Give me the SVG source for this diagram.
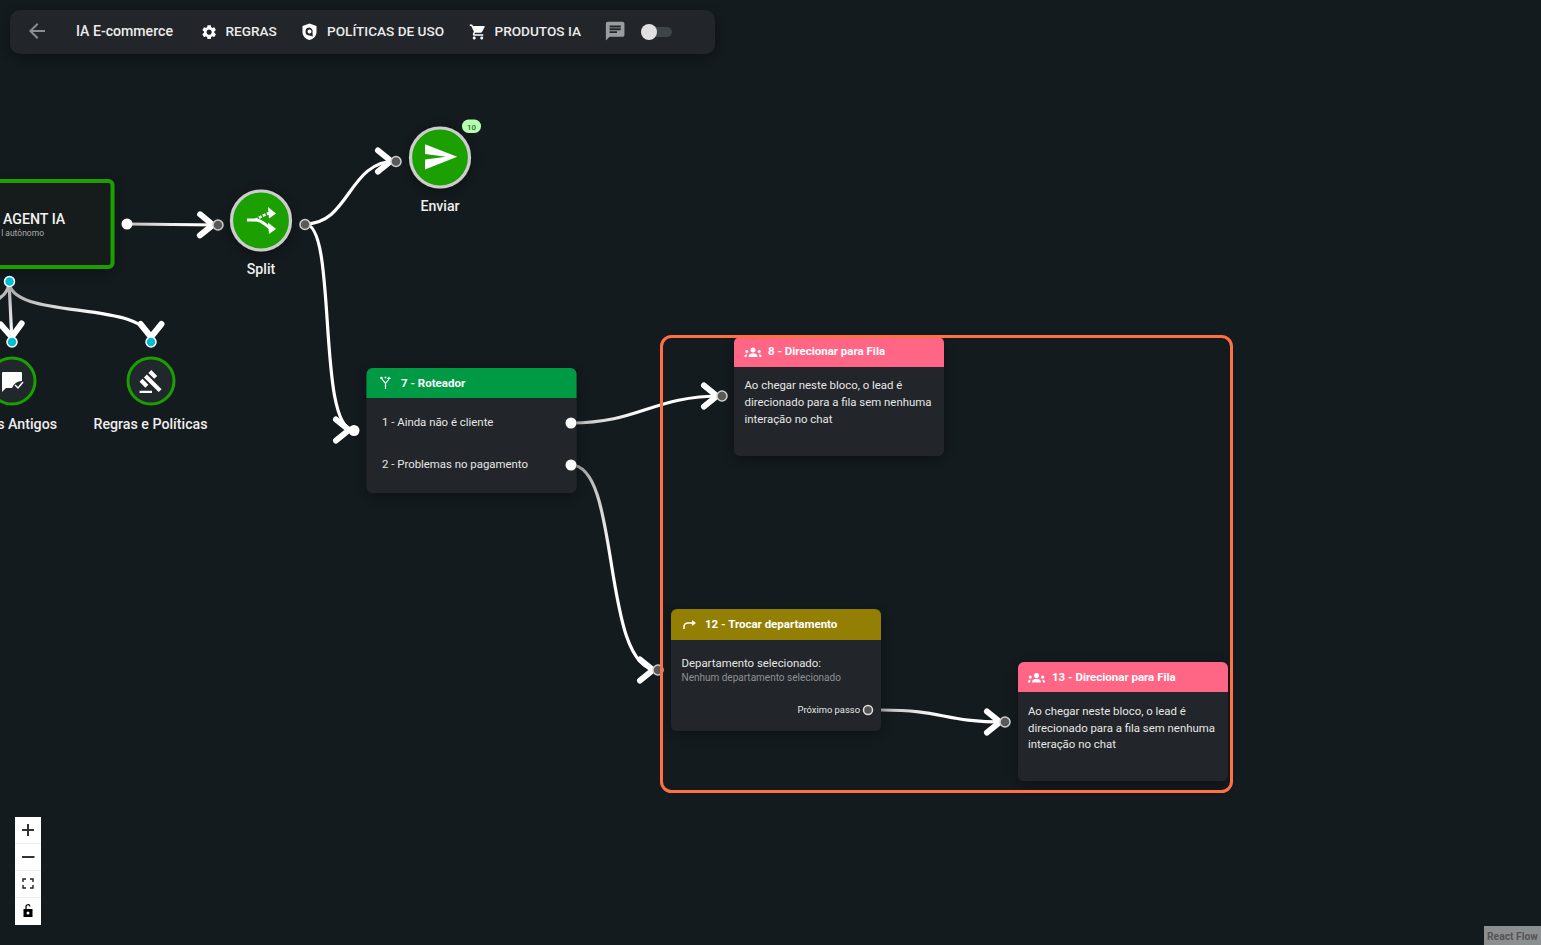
<svg xmlns="http://www.w3.org/2000/svg" width="1541" height="945" viewBox="0 0 1541 945">
<style>
text{font-family:Roboto,"Liberation Sans",sans-serif;fill:#f2f2f2}
.tb{font-size:13.6px;font-weight:500;fill:#ececec}
.lbl{font-size:14.2px;font-weight:500;fill:#eee}
.ttl{font-size:11.5px;font-weight:700;fill:#fff}
.bd{font-size:11.4px;fill:#e6e6e6}
.edge{fill:none;stroke-width:3.2;stroke-linecap:round}
.hg{fill:#595959;stroke:#cfcfcf;stroke-width:1.5}
.hw{fill:#fff}
.hc{fill:#00bcd4;stroke:#fff;stroke-width:1.5}
.body{fill:#20282c;filter:url(#sh)}
.ic{fill:#fff}
.ctl{fill:#333;stroke:none}
</style>
<defs>
<filter id="sh" x="-30%" y="-30%" width="160%" height="160%"><feDropShadow dx="0" dy="3" stdDeviation="8" flood-color="#000" flood-opacity=".45"/></filter>
<marker id="ah" markerUnits="userSpaceOnUse" markerWidth="40" markerHeight="40" refX="31" refY="20" orient="auto" overflow="visible"><path d="M13,9.500 L26,20 L13,30.500" fill="none" stroke="#fff" stroke-width="6" stroke-linecap="round" stroke-linejoin="round"/></marker>
<linearGradient id="g1" gradientUnits="userSpaceOnUse" x1="127" y1="224" x2="190" y2="225"><stop offset="0" stop-color="#bbb"/><stop offset="1" stop-color="#fff"/></linearGradient>
<linearGradient id="g2" gradientUnits="userSpaceOnUse" x1="571" y1="423" x2="640" y2="410"><stop offset="0" stop-color="#bbb"/><stop offset="1" stop-color="#fff"/></linearGradient>
<linearGradient id="g3" gradientUnits="userSpaceOnUse" x1="571" y1="465" x2="610" y2="560"><stop offset="0" stop-color="#aaa"/><stop offset="1" stop-color="#fff"/></linearGradient>
<linearGradient id="g4" gradientUnits="userSpaceOnUse" x1="881" y1="710" x2="940" y2="715"><stop offset="0" stop-color="#bbb"/><stop offset="1" stop-color="#fff"/></linearGradient>
<linearGradient id="g5" gradientUnits="userSpaceOnUse" x1="9" y1="285" x2="100" y2="315"><stop offset="0" stop-color="#aaa"/><stop offset="1" stop-color="#fff"/></linearGradient>
<linearGradient id="g6" gradientUnits="userSpaceOnUse" x1="9" y1="285" x2="12" y2="335"><stop offset="0" stop-color="#aaa"/><stop offset="1" stop-color="#fff"/></linearGradient>
<path id="grp" d="M8.500 1a2.500 2.500 0 1 1 0 5a2.500 2.500 0 0 1 0-5zM2.300 3.500a1.600 1.600 0 1 1 0 3.200a1.600 1.600 0 0 1 0-3.200zM14.700 3.500a1.600 1.600 0 1 1 0 3.200a1.600 1.600 0 0 1 0-3.200zM4.200 10.500v-1.300c0-1.400 2.200-2.400 4.300-2.400s4.300 1 4.300 2.400v1.300zM0 10.500v-1c0-1 1-1.700 2.800-1.800-.4.4-.6.900-.6 1.500v1.300zM17 10.500v-1c0-1-1-1.700-2.800-1.800.4.4.6.900.6 1.500v1.300z"/>
</defs>
<rect width="1541" height="945" fill="#141b1f"/>

<g id="edges">
<path class="edge" stroke="url(#g1)" d="M127,224 L218,225" marker-end="url(#ah)"/>
<path class="edge" stroke="#fff" d="M305,224 C350,224 348,161 396,161" marker-end="url(#ah)"/>
<path class="edge" stroke="#fff" d="M305,224 C338,224 316,430 354,430" marker-end="url(#ah)"/>
<path class="edge" stroke="url(#g2)" d="M571,423 C640,423 652,396 722,396" marker-end="url(#ah)"/>
<path class="edge" stroke="url(#g3)" d="M571,465 C622,465 600,670 658,670" marker-end="url(#ah)"/>
<path class="edge" stroke="url(#g4)" d="M881,710 C945,710 942,722 1005,722" marker-end="url(#ah)"/>
<path class="edge" stroke="url(#g6)" d="M9,281 L12,342" marker-end="url(#ah)"/>
<path class="edge" stroke="url(#g5)" d="M9,281 C9,322 151,298 151,342" marker-end="url(#ah)"/>
<path class="edge" stroke="#bbb" d="M9,281 C9,300 -10,300 -30,320"/>
</g>

<g id="toolbar">
<rect x="10" y="10" width="705" height="44" rx="10" fill="#20272b" filter="url(#sh)"/>
<path transform="translate(25 19)" fill="#8a8f92" d="M20 11H7.830l5.590-5.590L12 4l-8 8 8 8 1.410-1.410L7.830 13H20v-2z"/>
<text class="tb" x="76" y="36" style="font-size:14.1px">IA E-commerce</text>
<path transform="translate(200.500 23.500) scale(.72)" class="ic" d="M19.140 12.940c.04-.3.06-.61.06-.94 0-.32-.02-.64-.07-.94l2.030-1.580c.18-.14.23-.41.12-.61l-1.920-3.320c-.12-.22-.37-.29-.59-.22l-2.390.96c-.5-.38-1.030-.7-1.620-.94l-.36-2.540c-.04-.24-.24-.41-.48-.41h-3.840c-.24 0-.43.17-.47.41l-.36 2.540c-.59.24-1.130.57-1.620.94l-2.390-.96c-.22-.08-.47 0-.59.22L2.740 8.870c-.12.21-.08.47.12.61l2.030 1.580c-.05.3-.09.63-.09.94s.02.64.07.94l-2.030 1.580c-.18.14-.23.41-.12.61l1.920 3.320c.12.22.37.29.59.22l2.390-.96c.5.38 1.030.7 1.620.94l.36 2.540c.05.24.24.41.48.41h3.840c.24 0 .44-.17.47-.41l.36-2.540c.59-.24 1.130-.56 1.620-.94l2.390.96c.22.08.47 0 .59-.22l1.920-3.320c.12-.22.07-.47-.12-.61l-2.010-1.580zM12 15.600c-1.980 0-3.600-1.620-3.600-3.600s1.620-3.600 3.600-3.600 3.600 1.620 3.600 3.600-1.620 3.600-3.600 3.600z"/>
<text class="tb" x="225.500" y="36">REGRAS</text>
<path class="ic" fill-rule="evenodd" d="M309.500 23.500L316.500 26V32C316.500 36 313.500 39 309.500 40C305.500 39 302.500 36 302.500 32V26ZM309.500 27.500A4 4 0 1 0 309.500 35.500L312.800 36.500L312.500 32.500A4 4 0 0 0 309.500 27.500ZM309.500 29.500A2 2 0 1 1 309.500 33.500A2 2 0 0 1 309.500 29.500Z"/>
<text class="tb" x="327" y="36">POLÍTICAS DE USO</text>
<path transform="translate(469 23) scale(.75)" class="ic" d="M7 18c-1.100 0-1.990.9-1.990 2S5.900 22 7 22s2-.9 2-2-.9-2-2-2zM1 2v2h2l3.600 7.590-1.350 2.450c-.16.28-.25.61-.25.96 0 1.100.9 2 2 2h12v-2H7.420c-.14 0-.25-.11-.25-.25l.03-.12.9-1.630h7.450c.75 0 1.410-.41 1.750-1.030l3.580-6.490c.08-.14.12-.31.12-.48 0-.55-.45-1-1-1H5.210l-.94-2H1zm16 16c-1.100 0-1.990.9-1.990 2s.89 2 1.990 2 2-.9 2-2-.9-2-2-2z"/>
<text class="tb" x="494.500" y="36">PRODUTOS IA</text>
<path transform="translate(604 20) scale(.93)" fill="#9a9d9f" d="M20 2H4c-1.100 0-2 .9-2 2v18l4-4h14c1.100 0 2-.9 2-2V4c0-1.100-.9-2-2-2zM6 9h12v2H6V9zm8 5H6v-2h8v2zm4-6H6V6h12v2z"/>
<rect x="641" y="27" width="31" height="10" rx="5" fill="#3e4549"/>
<circle cx="649" cy="32" r="8" fill="#e0e0e0"/>
</g>

<g id="node-agent">
<rect x="-30" y="181" width="142.500" height="86" rx="4" fill="#141b1f" stroke="#1a9f00" stroke-width="4" filter="url(#sh)"/>
<text x="3" y="224" style="font-size:14.200px;font-weight:500;fill:#f2f2f2">AGENT IA</text>
<text x="44" y="236" text-anchor="end" style="font-size:8.500px;fill:#aaa">l autônomo</text>
</g>
<circle class="hw" cx="127" cy="224" r="5.500"/>
<circle class="hc" cx="9.500" cy="281.500" r="5"/>

<g id="node-split">
<circle cx="261" cy="220.500" r="29.500" fill="#1a9f00" stroke="#cdcdcd" stroke-width="3.200" filter="url(#sh)"/>
<path d="M247,220 H255 C262,220 264,224 270,228" fill="none" stroke="#fff" stroke-width="2.800"/>
<path d="M255,220 C260,218 262,215 270,213" fill="none" stroke="#fff" stroke-width="2.800" stroke-dasharray="3 1.500"/>
<path class="ic" d="M268,207 L276,213.500 L269,218.500ZM268,222.500 L276,229 L269,234Z"/>
<text class="lbl" x="261" y="274" text-anchor="middle">Split</text>
<circle class="hg" cx="218" cy="225" r="5"/>
<circle class="hg" cx="305" cy="224.500" r="5"/>
</g>

<g id="node-enviar">
<circle cx="440" cy="157.500" r="29.500" fill="#1a9f00" stroke="#cdcdcd" stroke-width="3.200" filter="url(#sh)"/>
<path transform="translate(425 140) scale(1.400)" class="ic" d="M.01 21L23 12 .01 3 0 10l15 2-15 2z"/>
<text class="lbl" x="440" y="211" text-anchor="middle">Enviar</text>
<rect x="462" y="119.500" width="19" height="13.500" rx="6.500" fill="#b4ffb0"/>
<text x="471.500" y="129.500" text-anchor="middle" style="font-size:8px;font-weight:500;fill:#2f6b2f">10</text>
<circle class="hg" cx="396" cy="161.500" r="5"/>
</g>

<g id="node-antigos">
<circle cx="12" cy="381" r="23" fill="#21282c" stroke="#1a9f00" stroke-width="3"/>
<path class="ic" d="M2,373 Q2,372 3,372 H21 Q22,372 22,373 V381 Q15,381 12,388 H6 L2,392Z"/>
<path d="M15,385 L18,388 L23,382" fill="none" stroke="#fff" stroke-width="1.500"/>
<text class="lbl" x="57" y="429" text-anchor="end">s Antigos</text>
<circle class="hc" cx="12" cy="342" r="5"/>
</g>

<g id="node-regras">
<circle cx="151" cy="381" r="23" fill="#21282c" stroke="#1a9f00" stroke-width="3"/>
<path transform="translate(138.500 369) scale(1.040)" class="ic" d="M1 21h12v2H1v-2zM5.245 8.070l2.830-2.827 14.140 14.142-2.828 2.828L5.245 8.070zM12.317 1l5.657 5.656-2.830 2.830-5.654-5.660L12.317 1zM3.825 9.485l5.657 5.657-2.828 2.828-5.657-5.657 2.828-2.828z"/>
<text class="lbl" x="150.500" y="429" text-anchor="middle">Regras e Políticas</text>
<circle class="hc" cx="151" cy="342" r="5"/>
</g>

<g id="node-7">
<rect class="body" x="366.500" y="368" width="210" height="125" rx="6"/>
<path d="M366.500,398 V374 a6,6 0 0 1 6,-6 H570.500 a6,6 0 0 1 6,6 V398Z" fill="#009a44"/>
<path d="M385.500,389 V383.500 L382,379 M385.500,383.500 L389,379" fill="none" stroke="#fff" stroke-width="1.200"/>
<path class="ic" d="M387,379 L389,376.500 L391,379Z"/><circle class="ic" cx="381.500" cy="378" r="1.300"/><circle class="ic" cx="385.500" cy="377.500" r="1"/>
<text class="ttl" x="401" y="387">7 - Roteador</text>
<text class="bd" x="382" y="426">1 - Ainda não é cliente</text>
<text class="bd" x="382" y="468">2 - Problemas no pagamento</text>
<circle class="hw" cx="571" cy="423" r="5.500"/>
<circle class="hw" cx="571" cy="465" r="5.500"/>
<circle class="hw" cx="354" cy="430.500" r="5.500"/>
</g>

<g id="node-8">
<rect class="body" x="734" y="337" width="210" height="119" rx="6"/>
<path d="M734,367 V343 a6,6 0 0 1 6,-6 H938 a6,6 0 0 1 6,6 V367Z" fill="#ff6685"/>
<use href="#grp" fill="#fff" x="744.500" y="346.500"/>
<text class="ttl" x="768" y="355">8 - Direcionar para Fila</text>
<text class="bd" x="744.500" y="389">Ao chegar neste bloco, o lead é</text>
<text class="bd" x="744.500" y="406">direcionado para a fila sem nenhuma</text>
<text class="bd" x="744.500" y="423">interação no chat</text>
<circle class="hg" cx="722" cy="396" r="5"/>
</g>

<g id="node-12">
<rect class="body" x="671" y="609" width="210" height="122" rx="6"/>
<path d="M671,640 V615 a6,6 0 0 1 6,-6 H875 a6,6 0 0 1 6,6 V640Z" fill="#947f05"/>
<path d="M684,629 V627 Q684,623 688,623 H694" fill="none" stroke="#fff" stroke-width="1.500"/>
<path class="ic" d="M692,620 L696,623 L692,626Z"/>
<text class="ttl" x="705" y="628">12 - Trocar departamento</text>
<text class="bd" x="681.500" y="667">Departamento selecionado:</text>
<text x="681.500" y="681" style="font-size:10px;fill:#8d9194">Nenhum departamento selecionado</text>
<text x="860" y="713" text-anchor="end" style="font-size:9.400px;fill:#e6e6e6">Próximo passo</text>
<circle cx="868" cy="710" r="4.500" fill="#555" stroke="#e0e0e0" stroke-width="1.500"/>
<circle class="hg" cx="658" cy="670" r="5"/>
</g>

<g id="node-13">
<rect class="body" x="1018" y="662" width="210" height="119" rx="6"/>
<path d="M1018,692 V668 a6,6 0 0 1 6,-6 H1222 a6,6 0 0 1 6,6 V692Z" fill="#ff6685"/>
<use href="#grp" fill="#fff" x="1028" y="672"/>
<text class="ttl" x="1052" y="681">13 - Direcionar para Fila</text>
<text class="bd" x="1028" y="715">Ao chegar neste bloco, o lead é</text>
<text class="bd" x="1028" y="732">direcionado para a fila sem nenhuma</text>
<text class="bd" x="1028" y="748">interação no chat</text>
<circle class="hg" cx="1005" cy="722" r="5"/>
</g>

<rect id="frame" x="661.500" y="336.500" width="570" height="455" rx="10" fill="none" stroke="#ff7043" stroke-width="3"/>

<g id="controls">
<rect x="15" y="817" width="26" height="108" fill="#fff"/>
<path d="M15,843.500H41M15,870.500H41M15,897.500H41" stroke="#eee" stroke-width="1"/>
<path class="ctl" d="M22,829H27V824H29V829H34V831H29V836H27V831H22Z"/>
<rect class="ctl" x="22" y="856" width="12.500" height="2"/>
<path d="M23,882V879H26M30,879H33V882M33,885V888H30M26,888H23V885" fill="none" stroke="#222" stroke-width="1.400"/>
<path fill="#000" fill-rule="evenodd" d="M23.500,909H32.500V917H23.500ZM28,911.500A1.500,1.500 0 1 0 28,914.500A1.500,1.500 0 1 0 28,911.500Z"/>
<path d="M26,909V907A2,2 0 0 1 30,906.500" fill="none" stroke="#000" stroke-width="1.200"/>
</g>

<g id="attribution">
<rect x="1484" y="926" width="57" height="19" fill="#8c8f90"/>
<text x="1487" y="939.500" style="font-size:10.300px;font-weight:700;fill:#555">React Flow</text>
</g>
</svg>
